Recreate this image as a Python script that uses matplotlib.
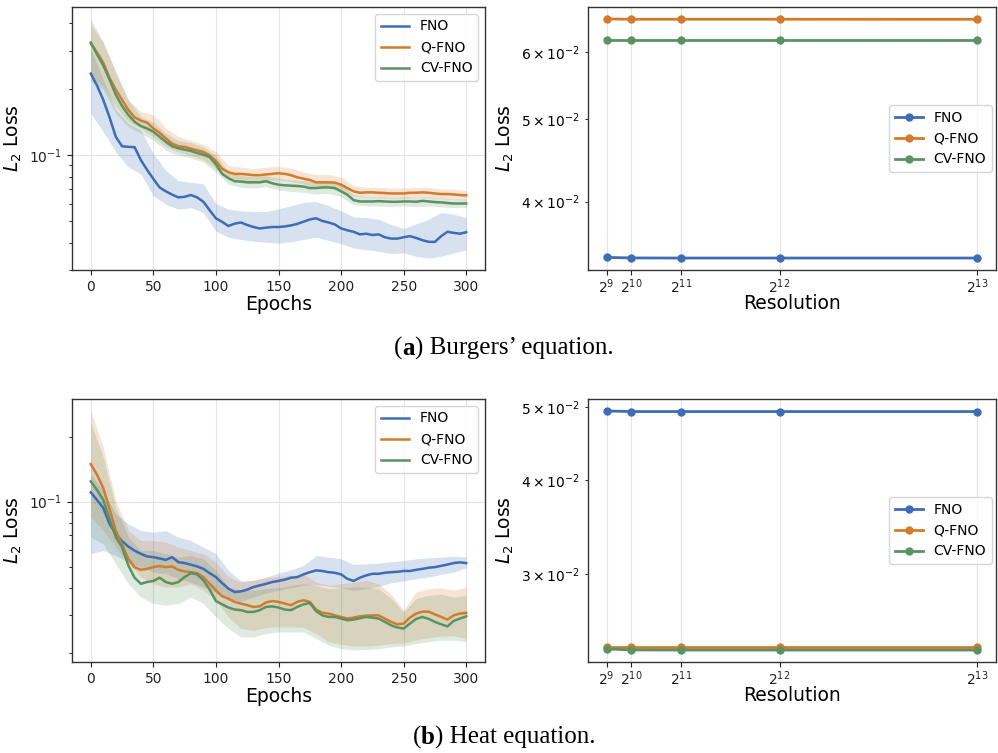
import numpy as np
import matplotlib.pyplot as plt

# ---------------- data ----------------
epochs = np.arange(0, 301, 5)
epochs_band = np.arange(0, 301, 10)

# Burgers' equation: mean curves (every 5 epochs)
burg_fno = [0.236, 0.208, 0.179, 0.149, 0.1215, 0.110, 0.1093, 0.109, 0.0952, 0.0859,
            0.0781, 0.0714, 0.0685, 0.0662, 0.0643, 0.0647, 0.0659, 0.0643, 0.0614, 0.0562,
            0.0516, 0.0497, 0.0476, 0.0488, 0.0494, 0.0481, 0.0471, 0.0464, 0.0468, 0.0471,
            0.0471, 0.0474, 0.0479, 0.0487, 0.0498, 0.051, 0.0516, 0.0502, 0.0494, 0.0484,
            0.0464, 0.0455, 0.0448, 0.0436, 0.0439, 0.0433, 0.0436, 0.0423, 0.0417, 0.0417,
            0.0423, 0.0428, 0.042, 0.041, 0.0403, 0.0403, 0.0428, 0.0448, 0.0443, 0.0439,
            0.0446]
burg_qfno = [0.325, 0.294, 0.2645, 0.2256, 0.1993, 0.1792, 0.1612, 0.1492, 0.144, 0.141,
             0.1327, 0.1267, 0.1194, 0.1132, 0.110, 0.1093, 0.1073, 0.1054, 0.1036, 0.100,
             0.0942, 0.0868, 0.0838, 0.0823, 0.0823, 0.0818, 0.0812, 0.0812, 0.0818, 0.0823,
             0.0829, 0.0823, 0.0812, 0.0794, 0.0783, 0.0772, 0.0753, 0.0753, 0.0753, 0.0751,
             0.0735, 0.0709, 0.0685, 0.0675, 0.0678, 0.0678, 0.0675, 0.0673, 0.067, 0.067,
             0.067, 0.0675, 0.0675, 0.0678, 0.0675, 0.067, 0.0666, 0.0666, 0.0663, 0.0659,
             0.0657]
burg_cvfno = [0.327, 0.289, 0.257, 0.2216, 0.189, 0.1682, 0.1529, 0.1424, 0.136, 0.1327,
              0.1281, 0.1215, 0.1152, 0.110, 0.1077, 0.1062, 0.1047, 0.1025, 0.1007, 0.0982,
              0.0909, 0.0823, 0.0786, 0.0762, 0.0759, 0.0753, 0.0753, 0.0753, 0.0762, 0.0746,
              0.0735, 0.073, 0.0727, 0.0725, 0.072, 0.0709, 0.0709, 0.0714, 0.0714, 0.0709,
              0.0685, 0.0661, 0.0625, 0.0616, 0.0616, 0.0616, 0.0618, 0.0616, 0.0614, 0.0614,
              0.0616, 0.0616, 0.0614, 0.062, 0.0616, 0.0612, 0.061, 0.0606, 0.0603, 0.0603,
              0.0603]

# Burgers' equation: shaded bands (every 10 epochs)
burg_fno_hi = [0.305, 0.2216, 0.1612, 0.140, 0.1304, 0.1018, 0.0853, 0.0767, 0.0753, 0.074,
               0.0603, 0.0568, 0.0558, 0.0554, 0.0554, 0.057, 0.0588, 0.061, 0.0616, 0.059,
               0.0558, 0.0524, 0.052, 0.0511, 0.0484, 0.0464, 0.0487, 0.0511, 0.0548, 0.0538,
               0.052]
burg_fno_lo = [0.1556, 0.1281, 0.1036, 0.0884, 0.0823, 0.0654, 0.0599, 0.0568, 0.0578, 0.0548,
               0.0451, 0.0423, 0.0413, 0.0406, 0.0401, 0.0398, 0.0403, 0.0413, 0.0423, 0.0409,
               0.0395, 0.0378, 0.0371, 0.0365, 0.0357, 0.0359, 0.0346, 0.034, 0.0346, 0.0359,
               0.0371]
burg_qfno_hi = [0.397, 0.327, 0.242, 0.179, 0.158, 0.153, 0.133, 0.122, 0.117, 0.112,
                0.104, 0.090, 0.0884, 0.0868, 0.0884, 0.089, 0.0874, 0.0838, 0.0817, 0.0817,
                0.0794, 0.0727, 0.0714, 0.0714, 0.0709, 0.0709, 0.0714, 0.0714, 0.0702, 0.070,
                0.069]
burg_qfno_lo = [0.2296, 0.2064, 0.167, 0.1424, 0.1327, 0.1215, 0.1093, 0.1036, 0.100, 0.0955,
                0.0868, 0.0789, 0.0767, 0.0761, 0.0767, 0.0772, 0.0761, 0.074, 0.0709, 0.0709,
                0.069, 0.0654, 0.0643, 0.0643, 0.0638, 0.0638, 0.0643, 0.0643, 0.0634, 0.063,
                0.0625]
burg_cvfno_hi = [0.419, 0.327, 0.238, 0.179, 0.150, 0.142, 0.126, 0.117, 0.114, 0.109,
                 0.100, 0.0838, 0.0809, 0.080, 0.0809, 0.0786, 0.0772, 0.0767, 0.0753, 0.0761,
                 0.0735, 0.0661, 0.0647, 0.0647, 0.0643, 0.0647, 0.0643, 0.0647, 0.0638, 0.0632,
                 0.063]
burg_cvfno_lo = [0.218, 0.199, 0.1556, 0.1351, 0.1259, 0.1173, 0.1054, 0.100, 0.0976, 0.0932,
                 0.0838, 0.074, 0.0714, 0.0709, 0.072, 0.0695, 0.0685, 0.0678, 0.0666, 0.067,
                 0.0647, 0.0595, 0.0588, 0.0588, 0.0584, 0.0588, 0.0584, 0.0588, 0.0582, 0.0578,
                 0.0578]

# Heat equation: mean curves (every 5 epochs)
heat_fno = [0.1104, 0.1018, 0.0935, 0.0789, 0.0710, 0.0657, 0.062, 0.0594, 0.0574, 0.0558,
            0.0554, 0.0546, 0.0538, 0.0554, 0.0525, 0.052, 0.0511, 0.0502, 0.0489, 0.0467,
            0.0448, 0.042, 0.0396, 0.0382, 0.0385, 0.0392, 0.0403, 0.041, 0.0417, 0.0425,
            0.043, 0.0436, 0.0445, 0.0448, 0.0461, 0.0472, 0.0481, 0.0478, 0.0472, 0.0469,
            0.0461, 0.044, 0.043, 0.0445, 0.0456, 0.0464, 0.0464, 0.0469, 0.0472, 0.0474,
            0.0478, 0.0478, 0.0484, 0.0489, 0.0495, 0.0498, 0.0505, 0.0512, 0.052, 0.0524,
            0.052]
heat_qfno = [0.1491, 0.1331, 0.1156, 0.0925, 0.0735, 0.0633, 0.0544, 0.0498, 0.0484, 0.0489,
             0.0498, 0.0504, 0.0498, 0.0502, 0.0484, 0.0476, 0.0472, 0.0467, 0.0448, 0.0417,
             0.0389, 0.0365, 0.0356, 0.0344, 0.0338, 0.0332, 0.0326, 0.0328, 0.0342, 0.0347,
             0.0344, 0.0338, 0.0332, 0.0344, 0.035, 0.0344, 0.0317, 0.0306, 0.0304, 0.0298,
             0.0293, 0.0288, 0.0291, 0.0295, 0.0297, 0.0298, 0.0298, 0.0288, 0.0278, 0.0271,
             0.0273, 0.0291, 0.0304, 0.031, 0.031, 0.0301, 0.0293, 0.0285, 0.0298, 0.0304,
             0.0306]
heat_cvfno = [0.1241, 0.1132, 0.1018, 0.0832, 0.0685, 0.0616, 0.0507, 0.0445, 0.0417, 0.0425,
              0.043, 0.0445, 0.0425, 0.0417, 0.0425, 0.0448, 0.0467, 0.0461, 0.0433, 0.0392,
              0.0347, 0.0335, 0.0324, 0.0317, 0.0315, 0.0309, 0.0309, 0.0315, 0.0326, 0.0328,
              0.0324, 0.0317, 0.0315, 0.0326, 0.0335, 0.034, 0.0312, 0.0298, 0.0293, 0.0293,
              0.0288, 0.0283, 0.0285, 0.0289, 0.0293, 0.0291, 0.0288, 0.0278, 0.0268, 0.0262,
              0.0259, 0.0273, 0.0287, 0.0293, 0.0287, 0.0278, 0.0271, 0.0265, 0.0281, 0.0288,
              0.0295]

# Heat equation: shaded bands (every 10 epochs)
heat_fno_hi = [0.1341, 0.1124, 0.0877, 0.0789, 0.0735, 0.0722, 0.0735, 0.0685, 0.0661, 0.0616,
               0.0574, 0.0481, 0.043, 0.0433, 0.0448, 0.0467, 0.0484, 0.0507, 0.0564, 0.0554,
               0.0544, 0.0512, 0.0516, 0.052, 0.0527, 0.0535, 0.0544, 0.055, 0.0554, 0.056,
               0.0554]
heat_fno_lo = [0.0574, 0.0594, 0.0564, 0.0525, 0.0498, 0.0472, 0.0464, 0.044, 0.0425, 0.0403,
               0.0378, 0.0356, 0.0347, 0.0362, 0.0378, 0.0389, 0.04, 0.041, 0.0414, 0.0406,
               0.04, 0.0389, 0.0396, 0.0406, 0.0421, 0.043, 0.044, 0.0448, 0.0461, 0.0472,
               0.0495]
heat_qfno_hi = [0.2627, 0.178, 0.1011, 0.0735, 0.0661, 0.0661, 0.065, 0.0616, 0.0594, 0.0574,
                0.0525, 0.0448, 0.0425, 0.0433, 0.0445, 0.0451, 0.0456, 0.0461, 0.0425, 0.041,
                0.0417, 0.0425, 0.0433, 0.0417, 0.0373, 0.0315, 0.0382, 0.0396, 0.04, 0.0389,
                0.0403]
heat_qfno_lo = [0.0847, 0.0735, 0.0616, 0.0516, 0.0448, 0.0417, 0.0403, 0.0403, 0.0417, 0.0389,
                0.035, 0.0293, 0.0259, 0.0254, 0.0262, 0.0264, 0.0264, 0.0262, 0.0246, 0.0225,
                0.0219, 0.0215, 0.0215, 0.0217, 0.0221, 0.0222, 0.023, 0.0235, 0.0239, 0.024,
                0.0233]
heat_cvfno_hi = [0.2321, 0.16, 0.0942, 0.0685, 0.0594, 0.0594, 0.0574, 0.0554, 0.0564, 0.0544,
                 0.0481, 0.0403, 0.0389, 0.0389, 0.0396, 0.04, 0.041, 0.0417, 0.041, 0.0396,
                 0.04, 0.0403, 0.0403, 0.0396, 0.0356, 0.0309, 0.0356, 0.0369, 0.0373, 0.0362,
                 0.0369]
heat_cvfno_lo = [0.0685, 0.0638, 0.0516, 0.0417, 0.0362, 0.0338, 0.0332, 0.0338, 0.0362, 0.0338,
                 0.0293, 0.0259, 0.0237, 0.0237, 0.0246, 0.025, 0.025, 0.025, 0.0233, 0.0217,
                 0.0209, 0.0206, 0.0207, 0.0209, 0.0213, 0.0215, 0.0221, 0.0225, 0.0229, 0.0229,
                 0.0225]

# resolution study
resolution = [512, 1024, 2048, 4096, 8192]
res_labels = ["$2^{9}$", "$2^{10}$", "$2^{11}$", "$2^{12}$", "$2^{13}$"]
res_burg_fno = [0.03439, 0.03434, 0.03433, 0.03433, 0.03433]
res_burg_qfno = [0.06558, 0.06553, 0.06553, 0.06553, 0.06552]
res_burg_cvfno = [0.0619, 0.0619, 0.0619, 0.0619, 0.0619]
res_heat_fno = [0.04939, 0.0493, 0.0493, 0.0493, 0.0493]
res_heat_qfno = [0.0240, 0.0240, 0.0240, 0.0240, 0.0240]
res_heat_cvfno = [0.02385, 0.02378, 0.02377, 0.02377, 0.02377]

names = ["FNO", "Q-FNO", "CV-FNO"]
colors = ["#3e6db5", "#d27b2c", "#5b9262"]

# ---------------- figure ----------------
W, H = 998, 753
fig = plt.figure(figsize=(W / 100, H / 100), dpi=100)

def rect(x0, y0, x1, y1):
    return [x0 / W, 1 - y1 / H, (x1 - x0) / W, (y1 - y0) / H]

def style(ax):
    for s in ax.spines.values():
        s.set_color("#333333")
        s.set_linewidth(1.0)
    ax.tick_params(labelsize=10, colors="#222222")
    ax.grid(True, color="#e4e4e4", linewidth=0.8)
    ax.set_axisbelow(True)

def loss_panel(ax, means, bands):
    for (m, (lo, hi)), c, n in zip(zip(means, bands), colors, names):
        ax.fill_between(epochs_band, lo, hi, color=c, alpha=0.2, linewidth=0)
        ax.plot(epochs, m, color=c, lw=1.8, label=n)
    ax.set_yscale("log")
    ax.set_xticks([0, 50, 100, 150, 200, 250, 300])
    ax.set_xlabel("Epochs", fontsize=13.5, labelpad=1)
    ax.set_ylabel("$L_2$ Loss", fontsize=13.5)
    ax.legend(loc="upper right", fontsize=10)
    style(ax)

def res_panel(ax, vals):
    for v, c, n in zip(vals, colors, names):
        ax.plot(resolution, v, color=c, lw=2, marker="o", markersize=5, label=n)
    ax.set_yscale("log")
    ax.set_xticks(resolution)
    ax.set_xticklabels(res_labels)
    ax.set_xlabel("Resolution", fontsize=13.5, labelpad=-1)
    ax.set_ylabel("$L_2$ Loss", fontsize=13.5)
    ax.legend(loc="center right", fontsize=10, borderaxespad=0.3)
    style(ax)
    ax.tick_params(axis="x", pad=1.5)

ax1 = fig.add_axes(rect(72, 7, 485, 270))
loss_panel(ax1, [burg_fno, burg_qfno, burg_cvfno],
           [(burg_fno_lo, burg_fno_hi), (burg_qfno_lo, burg_qfno_hi), (burg_cvfno_lo, burg_cvfno_hi)])

ax2 = fig.add_axes(rect(588, 7, 996, 270))
res_panel(ax2, [res_burg_fno, res_burg_qfno, res_burg_cvfno])

ax3 = fig.add_axes(rect(72, 399, 485, 662))
loss_panel(ax3, [heat_fno, heat_qfno, heat_cvfno],
           [(heat_fno_lo, heat_fno_hi), (heat_qfno_lo, heat_qfno_hi), (heat_cvfno_lo, heat_cvfno_hi)])

ax4 = fig.add_axes(rect(588, 399, 996, 662))
res_panel(ax4, [res_heat_fno, res_heat_qfno, res_heat_cvfno])

# captions: "(a) ..." with bold letter, centred
renderer = fig.canvas.get_renderer()

def caption(letter, rest, ybase):
    parts = [("(", "normal"), (letter, "bold"), (") " + rest, "normal")]
    ts = [fig.text(0, 1 - ybase / H, s, fontweight=w, family="Liberation Serif",
                   fontsize=18, va="baseline", ha="left") for s, w in parts]
    ws = [t.get_window_extent(renderer).width for t in ts]
    x = 504 - sum(ws) / 2
    for t, w in zip(ts, ws):
        t.set_x(x / W)
        x += w

caption("a", "Burgers\u2019 equation.", 355)
caption("b", "Heat equation.", 744)

fig.savefig("out.png", dpi=100)
